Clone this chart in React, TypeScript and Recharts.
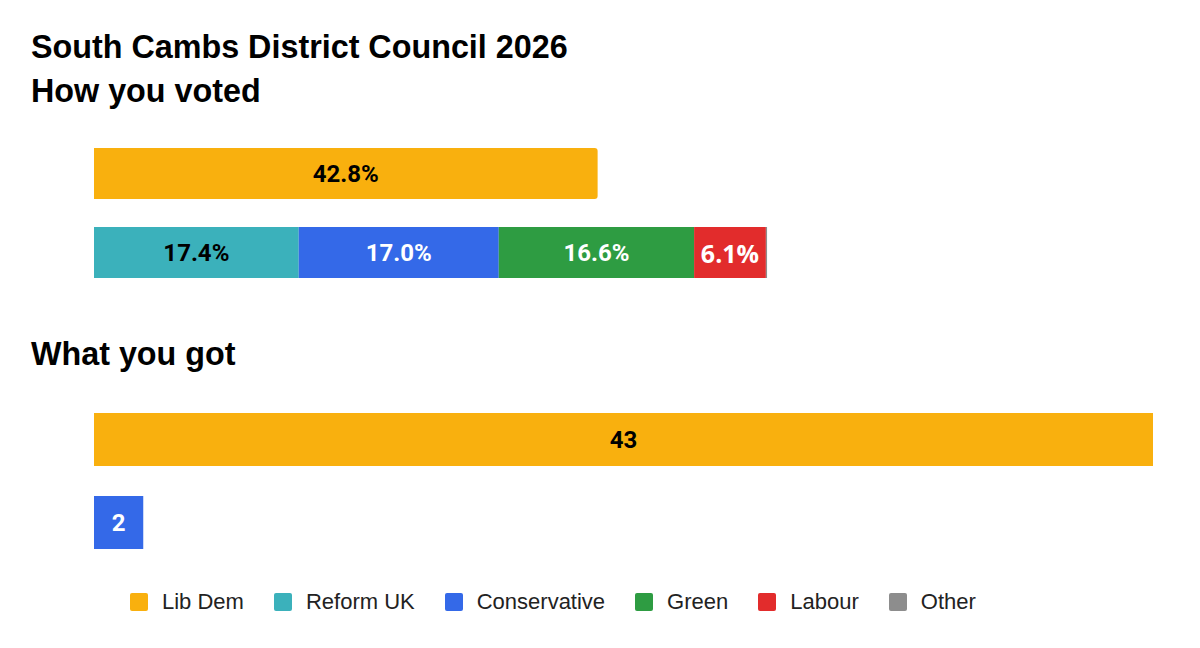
import { BarChart, Bar, XAxis, YAxis, LabelList } from 'recharts';

const parties = ['Lib Dem', 'Reform UK', 'Conservative', 'Green', 'Labour', 'Other'];
const partyKeys = ['libDem', 'reform', 'con', 'green', 'labour', 'other'];
const partyColors = ['#F9B00E', '#3BB1BB', '#3469E8', '#2E9C42', '#E22C2C', '#8D8D8D'];
const labelColors = ['#000000', '#000000', '#ffffff', '#ffffff', '#ffffff', '#ffffff'];

// share of the vote, %
const voteShare = [42.8, 17.4, 17.0, 16.6, 6.1, 0.1];
// seats won
const seats = [43, 0, 2, 0, 0, 0];
// row 0 holds the Lib Dems alone, row 1 everyone else
const partyRow = [0, 1, 1, 1, 1, 1];

const toRows = (values: number[]) => {
  const rows: Record<string, any>[] = [{ row: 'first' }, { row: 'second' }];
  rows.forEach(r => partyKeys.forEach(k => { r[k] = 0; }));
  partyKeys.forEach((k, i) => { rows[partyRow[i]][k] = values[i]; });
  return rows;
};

const voteRows = toRows(voteShare);
const seatRows = toRows(seats);

const FONT = '"Liberation Sans", Arial, sans-serif';

const makeLabel = (color: string, fmt: (v: number) => string, family: string, size: number) => (props: any) => {
  const { x, y, width, height, value } = props;
  const v = Number(value);
  if (!Number.isFinite(v) || v < 1) return null;
  return (
    <text
      x={x + width / 2}
      y={y + height / 2}
      fill={color}
      textAnchor="middle"
      dominantBaseline="central"
      fontFamily={family}
      fontWeight={700}
      fontSize={size}
    >
      {fmt(v)}
    </text>
  );
};

const heading = (text: string, top: number) => (
  <div
    style={{
      position: 'absolute', left: 31, top, fontFamily: FONT, fontWeight: 700,
      fontSize: 32.3, lineHeight: '32px', color: '#000', whiteSpace: 'nowrap',
    }}
  >
    {text}
  </div>
);

export default function App() {
  return (
    <div style={{ position: 'absolute', left: 0, top: 0, width: 1200, height: 648, background: '#fff', overflow: 'hidden' }}>
      {heading('South Cambs District Council 2026', 31)}
      {heading('How you voted', 75)}
      {heading('What you got', 338)}

      <div style={{ position: 'absolute', left: 94, top: 134 }}>
        <BarChart width={1059} height={158} data={voteRows} layout="vertical" margin={{ top: 0, right: 0, bottom: 0, left: 0 }}>
          <XAxis type="number" domain={[0, 90]} hide />
          <YAxis type="category" dataKey="row" hide />
          {partyKeys.map((k, i) => (
            <Bar
              key={k}
              dataKey={k}
              stackId="votes"
              fill={partyColors[i]}
              barSize={51}
              radius={i === 0 ? [0, 3, 3, 0] : 0}
              isAnimationActive={false}
            >
              <LabelList
                dataKey={k}
                content={makeLabel(
                  labelColors[i],
                  v => `${v.toFixed(1)}%`,
                  i === 4 ? '"Open Sans", sans-serif' : 'Roboto, sans-serif',
                  i === 4 ? 25 : 24,
                )}
              />
            </Bar>
          ))}
        </BarChart>
      </div>

      <div style={{ position: 'absolute', left: 94, top: 398 }}>
        <BarChart width={1059} height={166} data={seatRows} layout="vertical" margin={{ top: 0, right: 0, bottom: 0, left: 0 }}>
          <XAxis type="number" domain={[0, 43]} hide />
          <YAxis type="category" dataKey="row" hide />
          {partyKeys.map((k, i) => (
            <Bar key={k} dataKey={k} stackId="seats" fill={partyColors[i]} barSize={53} isAnimationActive={false}>
              <LabelList dataKey={k} content={makeLabel(labelColors[i], v => String(v), 'Roboto, sans-serif', 24)} />
            </Bar>
          ))}
        </BarChart>
      </div>

      <div
        style={{
          position: 'absolute', left: 130, top: 591, height: 22, display: 'flex', alignItems: 'center',
          gap: 30, fontFamily: FONT, fontSize: 22, lineHeight: '22px', color: '#222',
        }}
      >
        {parties.map((p, i) => (
          <div key={p} style={{ display: 'flex', alignItems: 'center', gap: 14 }}>
            <span style={{ width: 18, height: 18, borderRadius: 2, background: partyColors[i], display: 'inline-block' }} />
            <span>{p}</span>
          </div>
        ))}
      </div>
    </div>
  );
}
